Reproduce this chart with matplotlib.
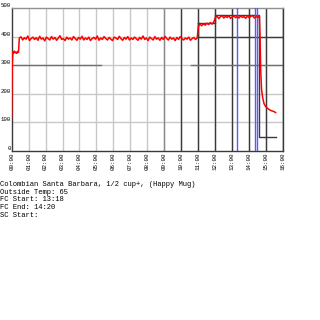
import numpy as np
import matplotlib
matplotlib.use('Agg')
import matplotlib.pyplot as plt

plt.rcParams['font.family'] = ['Liberation Mono', 'DejaVu Sans Mono']

# roast log readings (minutes, degrees)
start_times = [0.0, 0.03, 0.07, 0.1, 0.15, 0.2, 0.25, 0.3, 0.35, 0.4]
start_temps = [118, 300, 348, 343, 350, 344, 347, 342, 349, 346]

dry_temps = [396, 400, 389, 397, 392, 403, 387, 394, 399, 391,
             397, 388, 402, 392, 396, 386, 399, 394, 389, 401,
             392, 398, 388, 396, 404, 391, 394, 387, 399, 392,
             396, 389, 401, 394, 388, 398, 392, 402, 389, 396,
             391, 399, 387, 394, 398, 392, 403, 388, 396, 391,
             401, 394, 389, 398, 392, 387, 399, 396, 391, 402,
             394, 388, 398, 392, 401, 389, 396, 391, 399, 394,
             388, 398, 392, 403, 391, 396, 387, 399, 394, 389,
             401, 392, 396, 388, 398, 391, 402, 394, 389, 399,
             392, 396, 387, 398, 391, 401, 394, 389, 396, 392,
             399, 388, 394, 398, 391, 396]
step2_temps = [437, 444, 439, 446, 441, 448, 443, 450, 445, 451]
step3_temps = [467, 473, 464, 470, 475, 466, 472, 468, 474, 465,
               470, 473, 467, 472, 466, 474, 468, 471, 465, 473,
               467, 472, 475, 466, 471, 468, 473]
cool_times = [14.66, 14.70, 14.75, 14.82, 14.9, 15.0, 15.15, 15.3, 15.45, 15.58]
cool_temps = [400, 280, 215, 185, 165, 155, 147, 142, 139, 135]

# setpoint steps
set_times = [11, 12, 14.62, 15.58]
set_temps = [450, 475, 50, 50]

# events
events = [13.3, 14.333, 14.5]

minutes = list(range(0, 17))
tick_labels = ['%02d:00' % m for m in minutes]

notes = ['Colombian Santa Barbara, 1/2 cup+, (Happy Mug)',
         'Outside Temp: 65',
         'FC Start: 13:18',
         'FC End: 14:20',
         'SC Start:']

sample = 0.1
times = (start_times
         + list(0.45 + sample * np.arange(len(dry_temps)))
         + list(11.02 + sample * np.arange(len(step2_temps)))
         + list(12.02 + sample * np.arange(len(step3_temps)))
         + cool_times)
temps = start_temps + dry_temps + step2_temps + step3_temps + cool_temps

fig = plt.figure(figsize=(3.2, 3.2), dpi=100)
ax = fig.add_axes([0.0366, 0.528, 0.847, 0.446])
ax.set_xlim(0, 16)
ax.set_ylim(0, 500)

light = '#c8c8c8'
dark = '#3a3a3a'
for m in minutes[1:]:
    ax.axvline(m, color=light, lw=1, zorder=1)
for t in [100, 200, 300, 400]:
    ax.axhline(t, color=light, lw=1, zorder=1)

# darker overlay lines
ax.axvline(9, color='#8a8a8a', lw=1, zorder=2)
for m in minutes[10:]:
    ax.axvline(m, color=dark, lw=1, zorder=2)
ax.plot([0, 5.3], [300, 300], color='#707070', lw=1, zorder=2)
ax.plot([10.6, 16], [300, 300], color='#707070', lw=1, zorder=2)
ax.plot([11, 16], [400, 400], color=dark, lw=1, zorder=2)
ax.plot(set_times, set_temps, drawstyle='steps-post', color=dark, lw=1, zorder=2)
ax.plot([11, 11], [400, 450], color=dark, lw=1, zorder=2)

for e in events:
    ax.axvline(e, color='#5a5aff', lw=1, zorder=3)

ax.plot(times, temps, color='#ff0000', lw=1.1, zorder=4)

ax.set_xticks(minutes)
ax.set_xticklabels(tick_labels, rotation=90, fontsize=4.2)
ax.set_yticks([0, 100, 200, 300, 400, 500])
ax.set_yticklabels(['0', '100', '200', '300', '400', '500'], fontsize=4.1)
ax.tick_params(axis='y', length=0, pad=0.5)
ax.tick_params(axis='x', length=0, pad=1)
for lab in ax.get_yticklabels():
    lab.set_verticalalignment('bottom')
for s in ['left', 'bottom', 'right']:
    ax.spines[s].set_color(dark)
    ax.spines[s].set_linewidth(1)
ax.spines['top'].set_color('#909090')
ax.spines['top'].set_linewidth(1)

y = 1 - 186 / 320
for line in notes:
    fig.text(0.0, y, line, fontsize=5.1, va='baseline', ha='left', color='black')
    y -= 7.7 / 320

fig.savefig('out.png', dpi=100, facecolor='white')
